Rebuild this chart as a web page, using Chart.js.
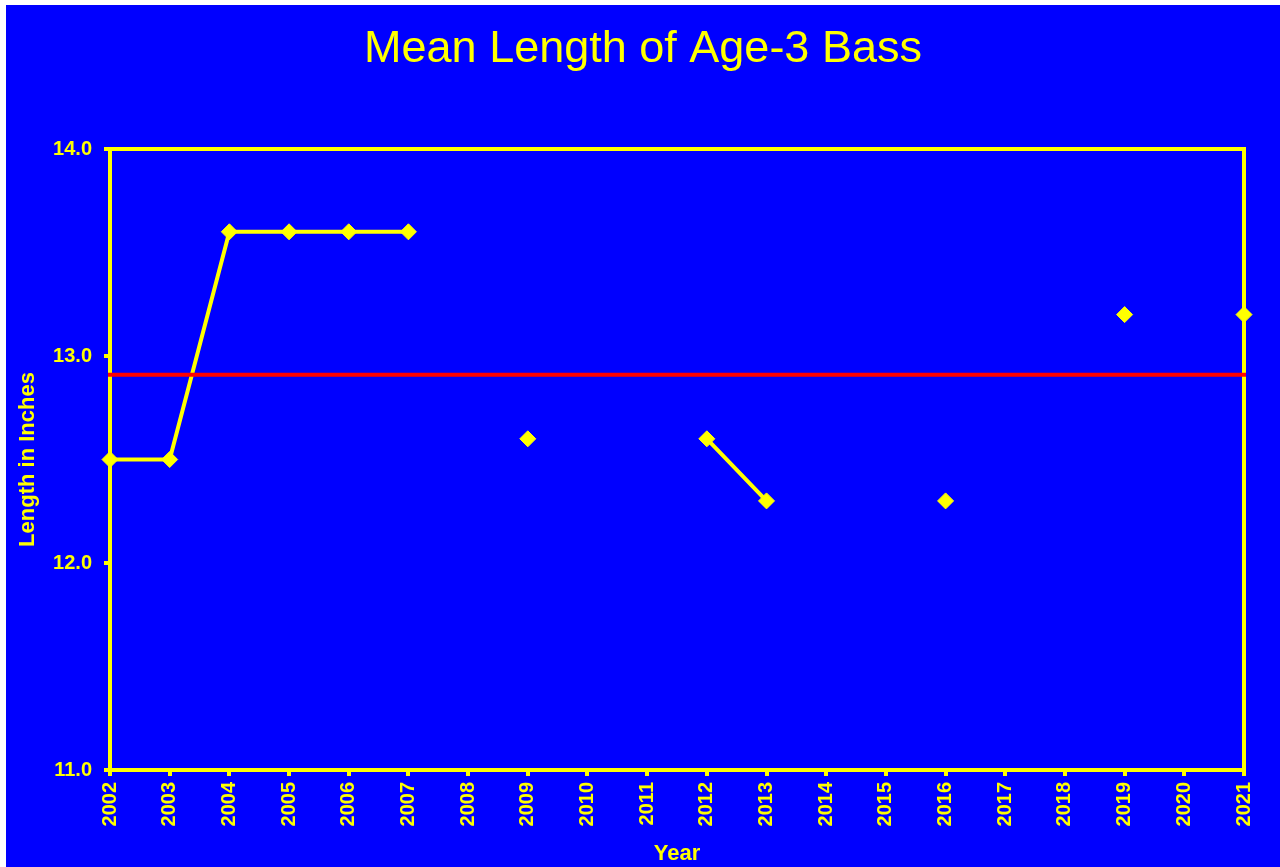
<!DOCTYPE html>
<html>
<head>
<meta charset="utf-8">
<script src="https://cdn.jsdelivr.net/npm/chart.js@4/dist/chart.umd.min.js"></script>
<style>
  html, body { margin: 0; padding: 0; background: #ffffff; }
  #wrap { position: absolute; left: 6px; top: 5px; width: 1274px; height: 862px; background: #0000ff; }
  canvas { display: block; }
</style>
</head>
<body>
<div id="wrap"><canvas id="c" width="1274" height="862"></canvas></div>
<script>
// ---- data ----
const years = ['2002','2003','2004','2005','2006','2007','2008','2009','2010','2011',
               '2012','2013','2014','2015','2016','2017','2018','2019','2020','2021'];
const meanLength = [12.5, 12.5, 13.6, 13.6, 13.6, 13.6, null, 12.6, null, null,
                    12.6, 12.3, null, null, 12.3, null, null, 13.2, null, 13.2];
const averageYears = ['2002', '2021'];
const averageLength = [12.91, 12.91];
const yTicks = [11.0, 12.0, 13.0, 14.0];

const YELLOW = '#ffff00';
const RED = '#ff0000';
const FONT = "'Liberation Sans', Arial, sans-serif";

const frame = {
  id: 'frame',
  beforeDatasetsDraw(chart) {
    const a = chart.chartArea, ctx = chart.ctx;
    ctx.save();
    ctx.strokeStyle = YELLOW;
    ctx.lineWidth = 4;
    ctx.strokeRect(a.left, a.top, a.right - a.left, a.bottom - a.top);
    ctx.restore();
  }
};

new Chart(document.getElementById('c'), {
  type: 'line',
  data: {
    labels: years,
    datasets: [
      {
        label: 'Average',
        data: averageYears.map((y, i) => ({ x: y, y: averageLength[i] })),
        borderColor: RED,
        borderWidth: 4,
        borderCapStyle: 'square',
        pointRadius: 0,
        fill: false,
        tension: 0
      },
      {
        label: 'Mean Length',
        data: meanLength,
        borderColor: YELLOW,
        backgroundColor: YELLOW,
        borderWidth: 4,
        pointStyle: 'rectRot',
        pointRadius: 8,
        pointHoverRadius: 8,
        pointBorderWidth: 1,
        spanGaps: false,
        fill: false,
        tension: 0
      }
    ]
  },
  options: {
    responsive: false,
    devicePixelRatio: 1,
    animation: false,
    layout: { padding: 0 },
    plugins: {
      legend: { display: false },
      tooltip: { enabled: false },
      title: {
        display: true,
        text: 'Mean Length of Age-3 Bass',
        color: YELLOW,
        font: { family: FONT, size: 45, weight: 'normal', lineHeight: 1.2 },
        padding: { top: 18, bottom: 72 }
      }
    },
    scales: {
      x: {
        type: 'category',
        offset: false,
        afterFit(s) { s.height = 97; s.paddingRight = 36; },
        grid: { drawOnChartArea: false, drawTicks: true, tickLength: 6, color: YELLOW, lineWidth: 4 },
        border: { display: true, color: YELLOW, width: 4 },
        ticks: {
          color: YELLOW,
          font: { family: FONT, size: 20, weight: 'bold' },
          maxRotation: 90, minRotation: 90,
          autoSkip: false,
          padding: 6
        },
        title: {
          display: true,
          text: 'Year',
          color: YELLOW,
          font: { family: FONT, size: 22, weight: 'bold', lineHeight: 1.2 },
          padding: { top: 0, bottom: 0 }
        }
      },
      y: {
        min: yTicks[0],
        max: yTicks[yTicks.length - 1],
        afterFit(s) { s.width = 104; },
        afterBuildTicks(s) { s.ticks = yTicks.map(v => ({ value: v })); },
        grid: { drawOnChartArea: false, drawTicks: true, tickLength: 6, color: YELLOW, lineWidth: 4 },
        border: { display: true, color: YELLOW, width: 4 },
        ticks: {
          color: YELLOW,
          font: { family: FONT, size: 20, weight: 'bold' },
          padding: 12,
          callback: v => Number(v).toFixed(1)
        },
        title: {
          display: true,
          text: 'Length in Inches',
          color: YELLOW,
          font: { family: FONT, size: 22, weight: 'bold', lineHeight: 1.2 },
          padding: { top: 9, bottom: 0 }
        }
      }
    }
  },
  plugins: [frame]
});
</script>
</body>
</html>
